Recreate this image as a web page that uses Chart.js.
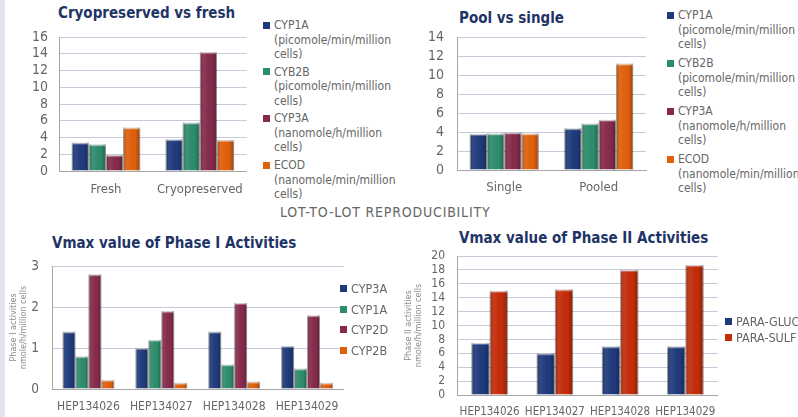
<!DOCTYPE html>
<html>
<head>
<meta charset="utf-8">
<script src="https://cdn.jsdelivr.net/npm/chart.js@4.4.1/dist/chart.umd.min.js"></script>
<style>
  body { margin: 0; background: #fff; }
  #page { position: relative; width: 798px; height: 417px; overflow: hidden; font-family: "DejaVu Sans Condensed", "DejaVu Sans", sans-serif; }
  .strip { position: absolute; left: 0; top: 0; width: 5px; height: 417px; background: #e6e2ee; }
  .box { position: absolute; }
  .title { position: absolute; font-weight: bold; color: #1f3466; white-space: nowrap; font-size: 15px; line-height: 18px; }
  .legend { position: absolute; color: #666; white-space: nowrap; }
  .item { position: absolute; left: 0; }
  .sw { position: absolute; left: 0; width: 7px; height: 7px; }
  .txt { position: absolute; }
  .mid { position: absolute; color: #666; font-size: 14px; letter-spacing: 0.8px; white-space: nowrap; }
</style>
</head>
<body>
<div id="page">
  <div class="strip"></div>
  <div class="title" style="left:58px;top:4px">Cryopreserved vs fresh</div>
  <div class="title" style="left:459px;top:9px">Pool vs single</div>
  <div class="mid" style="left:280px;top:204px">LOT-TO-LOT REPRODUCIBILITY</div>
  <div class="title" style="left:52px;top:234px">Vmax value of Phase I Activities</div>
  <div class="title" style="left:459px;top:229px">Vmax value of Phase II Activities</div>

  <div class="box" style="left:0;top:11px;width:255px;height:194px"><canvas id="c1"></canvas></div>
  <div class="box" style="left:400px;top:11px;width:252px;height:194px"><canvas id="c2"></canvas></div>
  <div class="box" style="left:0;top:240px;width:350px;height:177px"><canvas id="c3"></canvas></div>
  <div class="box" style="left:400px;top:230px;width:326px;height:187px"><canvas id="c4"></canvas></div>

  <div class="legend" id="lg1" style="left:263px;top:18px"></div>
  <div class="legend" id="lg2" style="left:667px;top:8px"></div>
  <div class="legend" id="lg3" style="left:340px;top:281px"></div>
  <div class="legend" id="lg4" style="left:725px;top:314px"></div>
</div>
<script>
// top charts
const topSeries = ['CYP1A', 'CYB2B', 'CYP3A', 'ECOD'];
const topUnits = [
  ['(picomole/min/million', 'cells)'],
  ['(picomole/min/million', 'cells)'],
  ['(nanomole/h/million', 'cells)'],
  ['(nanomole/min/million', 'cells)']
];
const topColors = ['#1f3a7c', '#2e8c6c', '#862a4c', '#e0600c'];

const freshLabels = ['Fresh', 'Cryopreserved'];
const cyp1aFresh = [3.4, 3.8];
const cyb2bFresh = [3.2, 5.8];
const cyp3aFresh = [1.9, 14.2];
const ecodFresh = [5.2, 3.7];

const poolLabels = ['Single', 'Pooled'];
const cyp1aPool = [3.8, 4.4];
const cyb2bPool = [3.85, 4.9];
const cyp3aPool = [3.95, 5.3];
const ecodPool = [3.85, 11.2];

// bottom charts
const lots = ['HEP134026', 'HEP134027', 'HEP134028', 'HEP134029'];
const phase1Series = ['CYP3A', 'CYP1A', 'CYP2D', 'CYP2B'];
const phase1Colors = ['#1f3a7c', '#2e8c6c', '#862a4c', '#e0600c'];
const cyp3a = [1.4, 1.0, 1.4, 1.05];
const cyp1a = [0.8, 1.2, 0.6, 0.5];
const cyp2d = [2.8, 1.9, 2.1, 1.8];
const cyp2b = [0.22, 0.15, 0.18, 0.15];

const phase2Series = ['PARA-GLUC', 'PARA-SULF'];
const phase2Colors = ['#1f3a7c', '#c42c0a'];
const paraGluc = [7.5, 6.0, 7.0, 7.0];
const paraSulf = [15.0, 15.2, 18.0, 18.7];

const FONT = '"DejaVu Sans Condensed", "DejaVu Sans", sans-serif';
const GRID = '#c9c9dc';
const AXIS = '#a6a6a6';
const TXT = '#666666';
const PAD_TOP = 26; // room above the plot, canvases are shifted up by this

// little 3D look on the bars
const shade = {
  id: 'shade',
  afterDatasetsDraw(chart) {
    const ctx = chart.ctx;
    chart.data.datasets.forEach((ds, i) => {
      chart.getDatasetMeta(i).data.forEach(bar => {
        const p = bar.getProps(['x', 'y', 'base', 'width'], true);
        const l = p.x - p.width / 2;
        const g = ctx.createLinearGradient(l, 0, l + p.width, 0);
        g.addColorStop(0, 'rgba(0,0,0,0.25)');
        g.addColorStop(0.3, 'rgba(255,255,255,0.06)');
        g.addColorStop(0.7, 'rgba(0,0,0,0)');
        g.addColorStop(1, 'rgba(0,0,0,0.3)');
        ctx.save();
        ctx.fillStyle = g;
        ctx.fillRect(l, p.y, p.width, p.base - p.y);
        ctx.fillStyle = 'rgba(255,255,255,0.3)';
        ctx.fillRect(l, p.y, p.width, 2);
        ctx.restore();
      });
    });
  }
};

function barChart(id, cfg) {
  const datasets = cfg.series.map((name, i) => ({
    label: name,
    data: cfg.values[i],
    backgroundColor: cfg.colors[i],
    borderColor: 'rgba(0,0,0,0.25)',
    borderWidth: 1,
    barPercentage: 1,
    categoryPercentage: cfg.catPct
  }));
  return new Chart(document.getElementById(id), {
    type: 'bar',
    data: { labels: cfg.labels, datasets },
    plugins: [shade],
    options: {
      responsive: true,
      maintainAspectRatio: false,
      animation: false,
      layout: { padding: { top: PAD_TOP, right: cfg.padRight, left: 0, bottom: 0 } },
      plugins: { legend: { display: false }, tooltip: { enabled: false } },
      scales: {
        x: {
          grid: { display: false, drawTicks: false },
          border: { color: AXIS },
          ticks: { color: TXT, font: { family: FONT, size: cfg.xFont }, padding: cfg.xPad, maxRotation: 0, autoSkip: false },
          afterFit: s => { s.height = cfg.xHeight; }
        },
        y: {
          min: 0,
          max: cfg.max,
          grid: { color: GRID, drawTicks: false },
          border: { color: AXIS },
          ticks: { stepSize: cfg.step, autoSkip: false, color: TXT, font: { family: FONT, size: cfg.yFont }, padding: cfg.yPad },
          title: cfg.yTitle ? { display: true, text: cfg.yTitle, color: '#8c8c8c', font: { family: FONT, size: 9, lineHeight: 1.05 }, padding: { top: cfg.titleOff, bottom: 2 } } : { display: false },
          afterFit: s => { s.width = cfg.yWidth; }
        }
      }
    }
  });
}

function legend(id, names, colors, extra, step, font, lineH) {
  const el = document.getElementById(id);
  el.style.fontSize = font + 'px';
  el.style.lineHeight = lineH + 'px';
  names.forEach((n, i) => {
    const it = document.createElement('div');
    it.className = 'item';
    it.style.top = (i * step) + 'px';
    const sw = document.createElement('span');
    sw.className = 'sw';
    sw.style.background = colors[i];
    sw.style.top = (lineH / 2 - 3.5) + 'px';
    const tx = document.createElement('div');
    tx.className = 'txt';
    tx.style.left = '11px';
    tx.innerHTML = [n].concat(extra ? extra[i] : []).join('<br>');
    it.appendChild(sw);
    it.appendChild(tx);
    el.appendChild(it);
  });
}

barChart('c1', {
  labels: freshLabels, series: topSeries, colors: topColors,
  values: [cyp1aFresh, cyb2bFresh, cyp3aFresh, ecodFresh],
  catPct: 0.73, max: 16, step: 2, padRight: 5,
  xHeight: 34, yWidth: 59, xFont: 13, yFont: 14, xPad: 11, yPad: 11
});
barChart('c2', {
  labels: poolLabels, series: topSeries, colors: topColors,
  values: [cyp1aPool, cyb2bPool, cyp3aPool, ecodPool],
  catPct: 0.73, max: 14, step: 2, padRight: 6,
  xHeight: 35, yWidth: 57, xFont: 13, yFont: 14, xPad: 10, yPad: 13
});
barChart('c3', {
  labels: lots, series: phase1Series, colors: phase1Colors,
  values: [cyp3a, cyp1a, cyp2d, cyp2b],
  catPct: 0.71, max: 3, step: 1, padRight: 5,
  xHeight: 28, yWidth: 52, xFont: 12, yFont: 13.5, xPad: 11, yPad: 13,
  yTitle: ['Phase I activities', 'nmole/h/million cells'], titleOff: 9
});
barChart('c4', {
  labels: lots, series: phase2Series, colors: phase2Colors,
  values: [paraGluc, paraSulf],
  catPct: 0.56, max: 20, step: 2, padRight: 5,
  xHeight: 22, yWidth: 57, xFont: 11.5, yFont: 12, xPad: 10, yPad: 12,
  yTitle: ['Phase II activities', 'nmole/h/million cells'], titleOff: 4
});

legend('lg1', topSeries, topColors, topUnits, 46.7, 12, 14.5);
legend('lg2', topSeries, topColors, topUnits, 48, 12, 14.5);
legend('lg3', phase1Series, phase1Colors, null, 20.7, 12.5, 15);
legend('lg4', phase2Series, phase2Colors, null, 15.5, 12.5, 15);
</script>
</body>
</html>
